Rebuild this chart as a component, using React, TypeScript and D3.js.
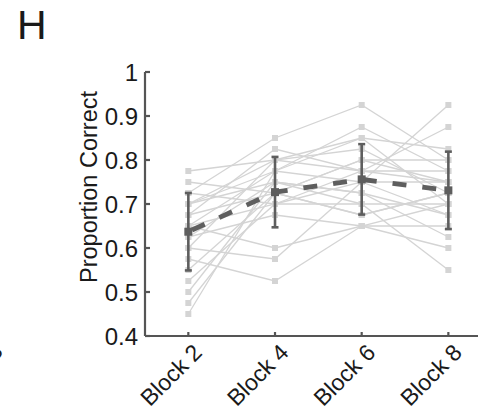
import React from "react";
import * as d3 from "d3";

const blocks = ["Block 2", "Block 4", "Block 6", "Block 8"];
const yTicks = [0.4, 0.5, 0.6, 0.7, 0.8, 0.9, 1];
const yTickLabels = ["0.4", "0.5", "0.6", "0.7", "0.8", "0.9", "1"];

const subjects: number[][] = [
  [0.775, 0.8, 0.85, 0.825],
  [0.75, 0.725, 0.8, 0.75],
  [0.725, 0.85, 0.925, 0.8],
  [0.725, 0.7, 0.75, 0.925],
  [0.7, 0.775, 0.875, 0.775],
  [0.7, 0.75, 0.7, 0.7],
  [0.675, 0.825, 0.775, 0.875],
  [0.675, 0.725, 0.675, 0.725],
  [0.65, 0.6, 0.65, 0.65],
  [0.65, 0.775, 0.85, 0.7],
  [0.65, 0.7, 0.775, 0.75],
  [0.625, 0.75, 0.725, 0.625],
  [0.625, 0.675, 0.65, 0.6],
  [0.6, 0.8, 0.825, 0.725],
  [0.6, 0.575, 0.75, 0.675],
  [0.575, 0.525, 0.65, 0.7],
  [0.55, 0.725, 0.8, 0.8],
  [0.525, 0.7, 0.7, 0.55],
  [0.5, 0.75, 0.725, 0.675],
  [0.475, 0.725, 0.675, 0.725],
  [0.45, 0.775, 0.75, 0.75],
  [0.7, 0.8, 0.775, 0.775],
];

const means = [0.637, 0.727, 0.756, 0.731];
const sds = [0.088, 0.08, 0.08, 0.088];

const W = 478;
const H = 409;
const FONT = "'Liberation Sans', Arial, sans-serif";
const DARK = "#5e5e5e";
const LIGHT = "#d4d4d4";
const TXT = "#1a1a1a";

export default function App() {
  const x = d3.scaleLinear().domain([-0.5, 3.5]).range([145, 491.7]);
  const y = d3.scaleLinear().domain([0.4, 1]).range([336, 72]);
  const line = d3
    .line<number>()
    .x((_, i) => x(i))
    .y((d) => y(d));

  const ms = 6;
  const mm = 8;

  return (
    <svg
      width={W}
      height={H}
      style={{ position: "absolute", left: 0, top: 0, background: "#fff" }}
      fontFamily={FONT}
    >
      <rect width={W} height={H} fill="#fff" />
      <text x={17} y={39} fontSize={41} fill={TXT}>
        H
      </text>
      {/* fragment of neighbouring panel label */}
      <text
        transform="translate(4,353) rotate(-45)"
        textAnchor="end"
        fontSize={23}
        fill={TXT}
      >
        Block 8
      </text>

      {/* subject lines */}
      <g>
        {subjects.map((s, k) => (
          <path key={k} d={line(s) || ""} fill="none" stroke={LIGHT} strokeWidth={1.3} />
        ))}
        {subjects.map((s, k) =>
          s.map((v, i) => (
            <rect
              key={k + "-" + i}
              x={x(i) - ms / 2}
              y={y(v) - ms / 2}
              width={ms}
              height={ms}
              fill={LIGHT}
            />
          ))
        )}
      </g>

      {/* mean dashed line */}
      <path
        d={line(means) || ""}
        fill="none"
        stroke={DARK}
        strokeWidth={4.8}
        strokeDasharray="14,16"
        strokeDashoffset={-4}
      />

      {/* error bars */}
      {means.map((m, i) => (
        <g key={"eb" + i} stroke={DARK} strokeWidth={2.6}>
          <line x1={x(i)} x2={x(i)} y1={y(m - sds[i])} y2={y(m + sds[i])} />
          <line x1={x(i) - 3.5} x2={x(i) + 3.5} y1={y(m - sds[i])} y2={y(m - sds[i])} />
          <line x1={x(i) - 3.5} x2={x(i) + 3.5} y1={y(m + sds[i])} y2={y(m + sds[i])} />
        </g>
      ))}
      {means.map((m, i) => (
        <rect
          key={"mm" + i}
          x={x(i) - mm / 2}
          y={y(m) - mm / 2}
          width={mm}
          height={mm}
          fill={DARK}
        />
      ))}

      {/* axes */}
      <g stroke="#555" strokeWidth={2.2}>
        <line x1={145} x2={145} y1={y(1)} y2={y(0.4)} />
        <line x1={145} x2={W + 20} y1={y(0.4)} y2={y(0.4)} />
        {yTicks.map((t) => (
          <line key={"yt" + t} x1={145} x2={150} y1={y(t)} y2={y(t)} />
        ))}
        {blocks.map((b, i) => (
          <line key={"xt" + b} x1={x(i)} x2={x(i)} y1={y(0.4)} y2={y(0.4) - 4} />
        ))}
      </g>

      {yTicks.map((t, i) => (
        <text
          key={"yl" + t}
          x={138}
          y={y(t)}
          dy="0.36em"
          textAnchor="end"
          fontSize={24}
          fill={TXT}
        >
          {yTickLabels[i]}
        </text>
      ))}

      {blocks.map((b, i) => (
        <text
          key={"xl" + b}
          transform={`translate(${x(i) + 15},354) rotate(-45)`}
          textAnchor="end"
          fontSize={23}
          fill={TXT}
        >
          {b}
        </text>
      ))}

      <text
        transform="translate(97,187) rotate(-90)"
        textAnchor="middle"
        fontSize={23.5}
        fill={TXT}
      >
        Proportion Correct
      </text>
    </svg>
  );
}
